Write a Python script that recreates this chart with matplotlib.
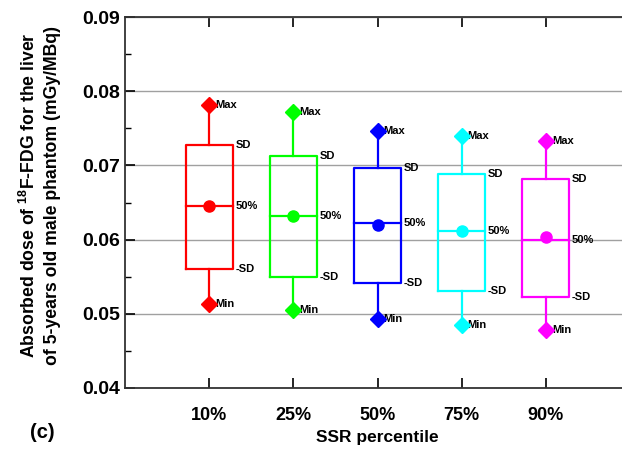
import numpy as np
import matplotlib
matplotlib.use("Agg")
import matplotlib.pyplot as plt
from matplotlib.ticker import MultipleLocator

plt.rcParams['font.family'] = ['Liberation Sans', 'DejaVu Sans']
plt.rcParams['font.weight'] = 'bold'
plt.rcParams['mathtext.fontset'] = 'custom'
plt.rcParams['mathtext.rm'] = 'Liberation Sans'
plt.rcParams['mathtext.bf'] = 'Liberation Sans:bold'

# data
percentiles = ['10%', '25%', '50%', '75%', '90%']
colors = ['#FF0000', '#00FF00', '#0000FF', '#00FFFF', '#FF00FF']
v_max = [0.0781, 0.0772, 0.0747, 0.0740, 0.0733]
sd_hi = [0.0728, 0.0713, 0.0697, 0.0689, 0.0682]
median = [0.0645, 0.0632, 0.0623, 0.0612, 0.0599]
mean = [0.0645, 0.0632, 0.0619, 0.0611, 0.0603]
sd_lo = [0.0560, 0.0550, 0.0541, 0.0531, 0.0522]
v_min = [0.0513, 0.0505, 0.0493, 0.0485, 0.0478]

fig = plt.figure(figsize=(6.22, 4.5), dpi=100)
ax = fig.add_axes([0.201, 0.138, 0.812, 0.824])

w = 0.28
pos = np.arange(1, len(percentiles) + 1)
for i, x in enumerate(pos):
    c = colors[i]
    # box
    ax.plot([x - w, x + w, x + w, x - w, x - w],
            [sd_lo[i], sd_lo[i], sd_hi[i], sd_hi[i], sd_lo[i]],
            color=c, lw=1.6, zorder=3)
    ax.plot([x - w, x + w], [median[i], median[i]], color=c, lw=1.6, zorder=3)
    # whiskers
    ax.plot([x, x], [sd_hi[i], v_max[i]], color=c, lw=1.6, zorder=3)
    ax.plot([x, x], [sd_lo[i], v_min[i]], color=c, lw=1.6, zorder=3)
    ax.plot([x, x], [v_max[i], v_min[i]], 'D', color=c, ms=8.5, zorder=4, ls='none')
    ax.plot(x, mean[i], 'o', color=c, ms=8, zorder=4)
    # labels
    ax.text(x + 0.07, v_max[i], 'Max', fontsize=8, va='center', ha='left')
    ax.text(x + 0.07, v_min[i], 'Min', fontsize=8, va='center', ha='left')
    ax.text(x + w + 0.03, sd_hi[i], 'SD', fontsize=8, va='center', ha='left')
    ax.text(x + w + 0.03, sd_lo[i], '-SD', fontsize=8, va='center', ha='left')
    ax.text(x + w + 0.03, median[i], '50%', fontsize=8, va='center', ha='left')

ax.set_xlim(0, 6)
ax.set_ylim(0.04, 0.09)
ax.set_xticks(pos)
ax.set_xticklabels(percentiles)
ax.yaxis.set_major_locator(MultipleLocator(0.01))
ax.yaxis.set_minor_locator(MultipleLocator(0.005))
ax.yaxis.set_major_formatter(matplotlib.ticker.FormatStrFormatter('%.2f'))
ax.grid(axis='y', color='#a0a0a0', lw=1.0, zorder=0)
ax.tick_params(axis='both', which='major', direction='in', length=7, width=1.2,
               labelsize=13, top=True)
ax.tick_params(axis='y', labelsize=14)
ax.tick_params(axis='x', pad=14)
ax.tick_params(axis='y', which='minor', direction='in', length=4, width=1.0)
for s in ax.spines.values():
    s.set_linewidth(1.3)
    s.set_color('#333333')

ax.set_xlabel('SSR percentile', fontsize=12.5, fontweight='bold', labelpad=4)
ax.set_ylabel('Absorbed dose of $^{\\mathbf{18}}$F-FDG for the liver\n'
              'of 5-years old male phantom (mGy/MBq)', fontsize=12.7,
              fontweight='bold', linespacing=1.35)
ax.yaxis.set_label_coords(-0.127, 0.52)
fig.text(0.048, 0.04, '(c)', fontsize=14.5, fontweight='bold', va='center')

fig.savefig('out.png', dpi=100)
